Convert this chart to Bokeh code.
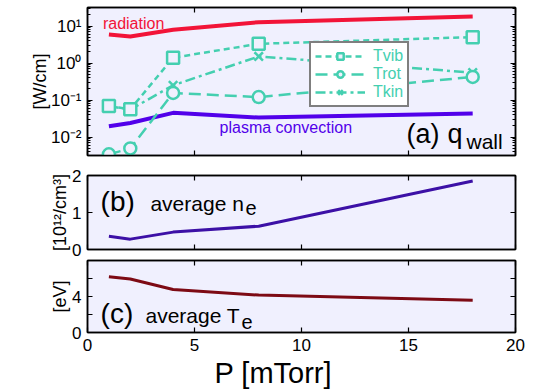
from bokeh.plotting import figure
from bokeh.models import Range1d, LinearAxis, LogAxis, FixedTicker, Label, Legend, LegendItem
from bokeh.layouts import column
from bokeh.embed import file_html
from bokeh.resources import INLINE

# ---------------- data ----------------
pressure = [1, 2, 4, 8, 18]
radiation = [5.9, 5.2, 7.9, 12.7, 18.1]
convection = [0.0195, 0.024, 0.045, 0.0335, 0.043]
t_vib = [0.069, 0.056, 1.39, 3.3, 5.0]
t_rot = [0.0034, 0.0049, 0.155, 0.12, 0.42]
t_kin = [0.068, 0.055, 0.25, 1.5, 0.55]
n_e = [0.36, 0.28, 0.47, 0.63, 1.85]
T_e = [6.2, 5.95, 4.77, 4.16, 3.58]

x_ticks = [0, 5, 10, 15, 20]
q_ticks = [0.01, 0.1, 1, 10]
q_tick_labels = ["10⁻²", "10⁻¹", "10⁰", "10¹"]
n_ticks = [0, 1, 2]
T_ticks = [0, 2, 4, 6, 8]
T_tick_labels = ["0", "", "4", "", ""]
legend_names = ["Tvib", "Trot", "Tkin"]

# ---------------- style ----------------
FONT = "Liberation Sans"
BG = "#f0f0fe"
TEAL = "#44cfb0"
RED = "#f21438"
PURPLE = "#5200ea"
NE_C = "#3c10a6"
TE_C = "#7d0a14"
W = 533
LEFT, RIGHT = 87, 18
NBSP = "\u00a0"

q_minor = [k * 10.0 ** e for e in range(-3, 2) for k in range(2, 10)]
q_minor = [v for v in q_minor if 10 ** -2.5 <= v <= 10 ** 1.5]

xr = Range1d(0, 20)


def style_axis(ax, labels=True):
    ax.axis_line_color = "black"
    ax.axis_line_width = 1.5
    ax.major_tick_in = 5
    ax.major_tick_out = 0
    ax.major_tick_line_color = "black"
    ax.major_tick_line_width = 1.2
    ax.minor_tick_in = 3
    ax.minor_tick_out = 0
    ax.minor_tick_line_color = "black"
    ax.minor_tick_line_width = 1
    if labels:
        ax.major_label_text_font = FONT
        ax.major_label_text_font_size = "17px"
        ax.major_label_text_color = "black"
        ax.major_label_standoff = 6
    else:
        ax.major_label_text_font_size = "1px"
        ax.major_label_text_color = None
        ax.major_label_standoff = 0


def style_label(ax, text, size, standoff):
    ax.axis_label = text
    ax.axis_label_text_font = FONT
    ax.axis_label_text_font_size = size
    ax.axis_label_text_font_style = "normal"
    ax.axis_label_text_color = "black"
    ax.axis_label_standoff = standoff


def make_fig(height, yr, top, bottom, log=False):
    p = figure(width=W, height=height, x_range=xr, y_range=yr,
               y_axis_type="log" if log else "linear",
               output_backend="svg", toolbar_location=None,
               min_border_left=LEFT, min_border_right=RIGHT,
               min_border_top=top, min_border_bottom=bottom,
               background_fill_color=BG, border_fill_color="white",
               outline_line_color="black", outline_line_width=1.5)
    p.grid.visible = False
    return p


def add_mirrors(p, yticker_factory, log=False):
    top_ax = LinearAxis(ticker=FixedTicker(ticks=x_ticks))
    style_axis(top_ax, labels=False)
    top_ax.minor_tick_line_color = None
    p.add_layout(top_ax, "above")
    right_ax = (LogAxis if log else LinearAxis)(ticker=yticker_factory())
    style_axis(right_ax, labels=False)
    p.add_layout(right_ax, "right")


def text(p, x, y, s, size, color="black"):
    p.add_layout(Label(x=x, y=y, text=s, text_color=color, text_font=FONT,
                       text_font_size=size, text_baseline="alphabetic"))


# ---------------- panel (a) ----------------
p1 = make_fig(165, Range1d(10 ** -2.5, 10 ** 1.5), 7, 10, log=True)
p1.xaxis.ticker = FixedTicker(ticks=x_ticks)
style_axis(p1.xaxis[0], labels=False)
p1.xaxis.minor_tick_line_color = None
p1.yaxis.ticker = FixedTicker(ticks=q_ticks, minor_ticks=q_minor)
style_axis(p1.yaxis[0])
p1.yaxis.major_label_overrides = dict(zip(q_ticks, q_tick_labels))
style_label(p1.yaxis[0], "[W/cm]", "18px", -2)
add_mirrors(p1, lambda: FixedTicker(ticks=q_ticks, minor_ticks=q_minor), log=True)

p1.line(pressure, radiation, line_color=RED, line_width=4)
p1.line(pressure, convection, line_color=PURPLE, line_width=4)

l_kin = p1.line(pressure, t_kin, line_color=TEAL, line_width=2.5, line_dash="10 4 3 4")
s_kin = p1.scatter(pressure, t_kin, marker="x", size=12, line_color=TEAL, line_width=2.5)
l_vib = p1.line(pressure, t_vib, line_color=TEAL, line_width=2.5, line_dash="6 4")
s_vib = p1.scatter(pressure, t_vib, marker="square", size=12, line_color=TEAL,
                   line_width=2.5, fill_color=BG)
l_rot = p1.line(pressure, t_rot, line_color=TEAL, line_width=2.5, line_dash="12 6")
s_rot = p1.scatter(pressure, t_rot, marker="circle", size=12, line_color=TEAL,
                   line_width=2.5, fill_color=BG)

legend = Legend(items=[LegendItem(label=legend_names[0], renderers=[l_vib, s_vib]),
                       LegendItem(label=legend_names[1], renderers=[l_rot, s_rot]),
                       LegendItem(label=legend_names[2], renderers=[l_kin, s_kin])],
                location=(222, 48), border_line_color="black", border_line_width=2,
                background_fill_color="white", background_fill_alpha=1.0,
                label_text_color=TEAL, label_text_font=FONT, label_text_font_size="16px",
                glyph_width=50, glyph_height=16, label_height=16, label_standoff=8,
                padding=4, spacing=0, margin=0)
p1.add_layout(legend)

text(p1, 0.72, 11.75, "radiation", "16px", RED)
text(p1, 6.17, 0.01815, "plasma convection", "16px", PURPLE)
text(p1, 14.91, 0.01175, "(a)", "27px")
text(p1, 16.82, 0.01175, "q", "27px")
text(p1, 17.71, 0.00769, "wall", "21px")

# ---------------- panel (b) ----------------
p2 = make_fig(94, Range1d(0, 2), 10, 10)
p2.xaxis.ticker = FixedTicker(ticks=x_ticks)
style_axis(p2.xaxis[0], labels=False)
p2.xaxis.minor_tick_line_color = None
p2.yaxis.ticker = FixedTicker(ticks=n_ticks)
style_axis(p2.yaxis[0])
style_label(p2.yaxis[0], "[10¹²/cm³]", "18px", -1)
add_mirrors(p2, lambda: FixedTicker(ticks=n_ticks))
p2.line(pressure, n_e, line_color=NE_C, line_width=3)
text(p2, 0.61, 1.308, "(b)", "28px")
text(p2, 2.94, 1.251, "average n", "21px")
text(p2, 7.38, 1.135, "e", "20px")

# ---------------- panel (c) ----------------
p3 = make_fig(132, Range1d(0, 8), 1, 57)
p3.xaxis.ticker = FixedTicker(ticks=x_ticks)
style_axis(p3.xaxis[0])
p3.xaxis.minor_tick_line_color = None
style_label(p3.xaxis[0], "P [mTorr]" + NBSP * 7, "29px", 3)
p3.yaxis.ticker = FixedTicker(ticks=T_ticks)
style_axis(p3.yaxis[0])
p3.yaxis.major_label_overrides = dict(zip(T_ticks, T_tick_labels))
style_label(p3.yaxis[0], "[eV]", "18px", -1)
add_mirrors(p3, lambda: FixedTicker(ticks=T_ticks))
p3.line(pressure, T_e, line_color=TE_C, line_width=3)
text(p3, 0.61, 2.10, "(c)", "28px")
text(p3, 2.71, 1.87, "average T", "21px")
text(p3, 7.2, 1.19, "e", "20px")

layout = column(p1, p2, p3, spacing=0)
open("out.html", "w").write(file_html(layout, INLINE))
